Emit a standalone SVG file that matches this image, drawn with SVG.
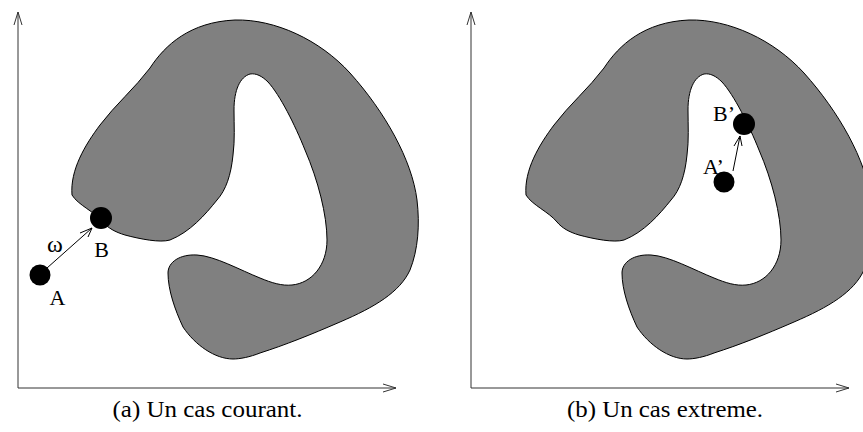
<svg xmlns="http://www.w3.org/2000/svg" width="863" height="432" viewBox="0 0 863 432">
<style>
.ax{stroke:#333;stroke-width:1;fill:none}
.blob{fill:#808080;stroke:#000;stroke-width:1}
.pt{fill:#000}
.ln{stroke:#000;stroke-width:1;fill:none}
.lbl{font-family:"Liberation Serif","Times New Roman",serif;font-size:22px;fill:#000}
.cap{font-family:"Liberation Serif","Times New Roman",serif;font-size:24px;fill:#000;text-anchor:middle}
</style>
<defs>
<path id="shape" class="blob" d="M150,68 C165,45 190,22 235,20 C275,19 320,40 350,73 C385,112 412,160 417,200 C420,225 418,250 410,270 C400,292 375,307 340,322 C310,335 285,345 260,353 C250,357 240,359 233,359 C215,359 195,345 183,327 C175,310 168,290 168,273 C168,262 180,254 197,255 C215,256 240,270 260,278 C272,283 282,286 292,285 C312,283 327,265 327,240 C327,215 318,180 305,150 C295,125 280,95 268,82 C262,76 256,73 250,74 C240,77 234,90 234,110 C234,125 235,140 233,155 C231,175 226,190 217,200 C205,215 190,232 170,240 C160,243 140,239 125,235 C115,232 108,228 103,222 C95,212 78,205 72,195 C70,170 85,145 100,125 C115,105 135,88 150,68 Z"/>
</defs>
<g id="panel-a">
<g id="axes-a">
<path class="ax" d="M18,388 V12 M14,25 L18,12 L22,25 M18,388 H396 M383,384 L396,388 L383,392"/>
</g>
<g id="shape-a"><use href="#shape"/></g>
<g id="node-A"><circle class="pt" cx="40" cy="275" r="10.5"/><text class="lbl" x="57.5" y="305" text-anchor="middle">A</text></g>
<g id="node-B"><circle class="pt" cx="101" cy="218" r="11"/><text class="lbl" x="101.5" y="257" text-anchor="middle">B</text></g>
<text class="lbl" x="55" y="252" text-anchor="middle" style="font-size:24px">ω</text>
<text class="cap" x="207.5" y="417" textLength="190" lengthAdjust="spacingAndGlyphs">(a) Un cas courant.</text>
</g>
<g id="panel-b">
<g id="axes-b">
<path class="ax" d="M471,388 V12 M467,25 L471,12 L475,25 M471,388 H849 M836,384 L849,388 L836,392"/>
</g>
<g id="shape-b"><use href="#shape" transform="translate(454,0)"/></g>
<g id="node-A2"><circle class="pt" cx="724" cy="182" r="10.5"/><text class="lbl" x="703" y="174">A’</text></g>
<g id="node-B2"><circle class="pt" cx="744" cy="124" r="11"/><text class="lbl" x="713" y="121">B’</text></g>
<text class="cap" x="665" y="417" textLength="196" lengthAdjust="spacingAndGlyphs">(b) Un cas extreme.</text>
</g>
<g id="connectors">
<path class="ln" d="M47,268 L92,228 M80,233 L92,228 L88,237"/>
<path class="ln" d="M733,171 L740,136 M734,146 L740,136 L742,146"/>
</g>
</svg>
